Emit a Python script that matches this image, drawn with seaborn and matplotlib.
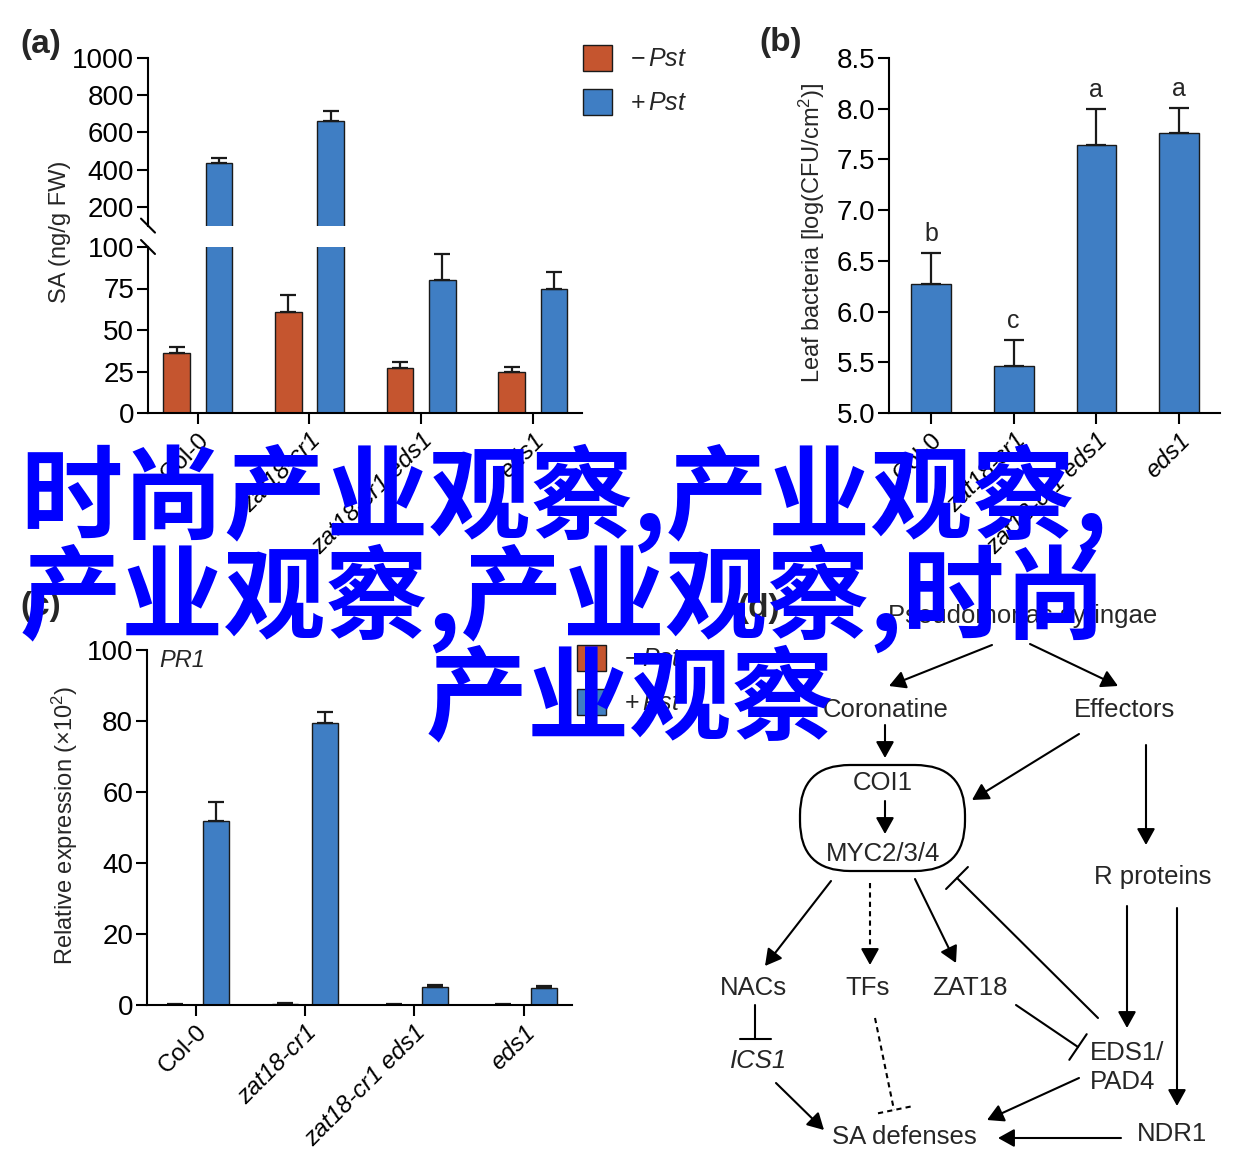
import numpy as np
import pandas as pd
import matplotlib
matplotlib.use("Agg")
import matplotlib.pyplot as plt
import seaborn as sns
from matplotlib.patches import Patch, FancyBboxPatch
from matplotlib import font_manager

# --- Data ---
genotypes = ["Col-0", "zat18-cr1", "zat18-cr1 eds1", "eds1"]
treatments = ["-Pst", "+Pst"]

# (a) SA content, ng/g FW
sa_mock = [36, 61, 27, 25]
sa_mock_err = [4, 10, 4, 2.5]
sa_pst = [436, 662, 80, 75]
sa_pst_err = [27, 53, 16, 10]

# (b) leaf bacteria, log(CFU/cm2)
bact = [6.27, 5.46, 7.64, 7.76]
bact_err = [0.31, 0.26, 0.36, 0.25]
bact_letters = ["b", "c", "a", "a"]

# (c) PR1 relative expression (x10^2)
pr1_mock = [0.1, 0.4, 0.1, 0.1]
pr1_mock_err = [0.05, 0.2, 0.05, 0.05]
pr1_pst = [51.8, 79.4, 5.1, 4.8]
pr1_pst_err = [5.4, 3.1, 0.5, 0.6]

overlay_lines = ["时尚产业观察,产业观察,", "产业观察,产业观察,时尚", "产业观察"]

# --- diagram (d): node labels and edges, in figure pixels ---
diag_labels = [
    ("Pseudomonas syringae", 1023, 616, "normal"),
    ("Coronatine", 886, 710, "normal"),
    ("Effectors", 1125, 710, "normal"),
    ("COI1", 883, 783, "normal"),
    ("MYC2/3/4", 883, 854, "normal"),
    ("R proteins", 1153, 877, "normal"),
    ("NACs", 753, 988, "normal"),
    ("TFs", 868, 988, "normal"),
    ("ZAT18", 970, 988, "normal"),
    ("ICS1", 759, 1061, "italic"),
    ("SA defenses", 904, 1137, "normal"),
    ("NDR1", 1172, 1134, "normal"),
]
diag_left_labels = [("EDS1/", 1090, 1053), ("PAD4", 1090, 1082)]
activations = [
    (992, 645, 889, 686), (1030, 644, 1118, 686), (885, 725, 885, 758),
    (1079, 734, 972, 800), (1146, 745, 1146, 845), (885, 801, 885, 834),
    (831, 881, 765, 966), (915, 879, 956, 963), (1127, 906, 1127, 1028),
    (1177, 908, 1177, 1106), (776, 1083, 824, 1130), (1079, 1078, 987, 1120),
    (1121, 1138, 998, 1138),
]
dotted_activations = [(870, 883, 870, 965)]
inhibitions = [(1098, 1018, 957, 878), (755, 1005, 755, 1039), (1016, 1005, 1078, 1047)]
dotted_inhibitions = [(875, 1018, 894, 1110)]

RED = "#C5552F"
BLUE = "#3F7EC4"
EDGE = "#1a1a1a"
W, H = 1245, 1166

sns.set_theme(style="ticks")
plt.rcParams["font.family"] = ["Liberation Sans", "DejaVu Sans"]
plt.rcParams["mathtext.fontset"] = "custom"
plt.rcParams["mathtext.rm"] = "Liberation Sans"
plt.rcParams["mathtext.it"] = "Liberation Sans:italic"
plt.rcParams["axes.linewidth"] = 1.5
plt.rcParams["axes.edgecolor"] = "black"

names = {f.name for f in font_manager.fontManager.ttflist}
NARROW = "Liberation Sans Narrow" if "Liberation Sans Narrow" in names else "Liberation Sans"


def rect(l, t, r, b):
    return [l / W, 1 - b / H, (r - l) / W, (b - t) / H]


def make_df(mock, mock_err, pst, pst_err):
    return pd.DataFrame({
        "genotype": genotypes * 2,
        "treatment": [treatments[0]] * 4 + [treatments[1]] * 4,
        "value": mock + pst,
        "err": mock_err + pst_err,
    })


def draw_bars(ax, df, width, gap, capsize, hue=True, err_min=None):
    if hue:
        sns.barplot(data=df, x="genotype", y="value", hue="treatment",
                    palette=[RED, BLUE], width=width, gap=gap, errorbar=None,
                    edgecolor=EDGE, linewidth=1.0, saturation=1, legend=False, ax=ax)
    else:
        sns.barplot(data=df, x="genotype", y="value", color=BLUE, width=width,
                    errorbar=None, edgecolor=EDGE, linewidth=1.0, saturation=1, ax=ax)
    xs = np.array([p.get_x() + p.get_width() / 2 for p in ax.patches])
    ys = np.array([p.get_height() for p in ax.patches])
    errs = df["err"].values
    keep = np.ones(len(ys), bool) if err_min is None else ys > err_min
    ax.errorbar(xs[keep], ys[keep], yerr=[np.zeros(keep.sum()), errs[keep]], fmt="none",
                ecolor=EDGE, elinewidth=1.6, capsize=capsize, capthick=1.6)
    ax.set_xlabel("")
    ax.set_ylabel("")


def style_axis(ax, ytick_family, xlabels=True):
    sns.despine(ax=ax)
    ax.tick_params(axis="both", direction="out", length=8, width=1.5, color="black",
                   labelcolor="black")
    ax.tick_params(axis="y", labelsize=20, pad=2)
    for t in ax.get_yticklabels():
        t.set_family(ytick_family)
    if xlabels:
        ax.set_xticks(range(len(genotypes)))
        ax.set_xticklabels(genotypes, rotation=45, ha="right", rotation_mode="anchor",
                           fontsize=17.5)
        for t in ax.get_xticklabels():
            if t.get_text() != "Col-0":
                t.set_style("italic")


fig = plt.figure(figsize=(W / 100, H / 100), dpi=100)

# --- (a) broken axis ---
ax_lo = fig.add_axes(rect(148, 247, 582, 413))
ax_hi = fig.add_axes(rect(148, 58, 582, 225.6))
sa_df = make_df(sa_mock, sa_mock_err, sa_pst, sa_pst_err)
draw_bars(ax_lo, sa_df, 0.756, 0.37, 5.8)
draw_bars(ax_hi, sa_df, 0.756, 0.37, 5.8, err_min=100)
for ax in (ax_lo, ax_hi):
    ax.set_xlim(-0.445, 3.44)
ax_lo.set_ylim(0, 100)
ax_lo.set_yticks([0, 25, 50, 75, 100])
style_axis(ax_lo, NARROW)
ax_hi.set_ylim(100, 1000)
ax_hi.set_yticks([200, 400, 600, 800, 1000])
style_axis(ax_hi, NARROW, xlabels=False)
ax_hi.spines["bottom"].set_visible(False)
ax_hi.tick_params(axis="x", bottom=False, labelbottom=False)
# break marks
dx = 7 / 434
ax_hi.plot([-dx, dx], [7 / 167.6, -7 / 167.6], transform=ax_hi.transAxes,
           color="black", lw=1.5, clip_on=False)
ax_lo.plot([-dx, dx], [1 + 7 / 166, 1 - 7 / 166], transform=ax_lo.transAxes,
           color="black", lw=1.5, clip_on=False)
fig.text(60 / W, 1 - 232 / H, "SA (ng/g FW)", rotation=90, ha="center", va="center",
         fontsize=17)

# --- (b) bacteria ---
ax_b = fig.add_axes(rect(889, 58, 1220, 413))
b_df = pd.DataFrame({"genotype": genotypes, "value": bact, "err": bact_err})
draw_bars(ax_b, b_df, 0.48, 0, 7.5, hue=False)
ax_b.set_xlim(-0.508, 3.495)
ax_b.set_ylim(5.0, 8.5)
ax_b.set_yticks(np.arange(5.0, 8.51, 0.5))
ax_b.set_yticklabels([f"{v:.1f}" for v in np.arange(5.0, 8.51, 0.5)])
style_axis(ax_b, "Liberation Sans")
for i, letter in enumerate(bact_letters):
    ax_b.annotate(letter, (i, bact[i] + bact_err[i]), xytext=(0, 5),
                  textcoords="offset points", ha="center", va="bottom", fontsize=18)
fig.text(812 / W, 1 - 233 / H, "Leaf bacteria [log(CFU/cm$^2$)]", rotation=90,
         ha="center", va="center", fontsize=17)

# --- (c) PR1 ---
ax_c = fig.add_axes(rect(147, 650, 572, 1005))
pr1_df = make_df(pr1_mock, pr1_mock_err, pr1_pst, pr1_pst_err)
draw_bars(ax_c, pr1_df, 0.744, 0.36, 5.8)
ax_c.set_xlim(-0.446, 3.443)
ax_c.set_ylim(0, 100)
ax_c.set_yticks([0, 20, 40, 60, 80, 100])
style_axis(ax_c, NARROW)
ax_c.text(0.03, 0.97, "PR1", transform=ax_c.transAxes, ha="left", va="center",
          fontsize=17, style="italic")
fig.text(65 / W, 1 - 825 / H, "Relative expression (×10$^2$)", rotation=90,
         ha="center", va="center", fontsize=17)

# --- legends ---
handles = [Patch(facecolor=RED, edgecolor=EDGE, lw=1), Patch(facecolor=BLUE, edgecolor=EDGE, lw=1)]
labels = [r"$-\,\mathit{Pst}$", r"$+\,\mathit{Pst}$"]
for lx, ly in [(583, 45), (577, 645)]:
    fig.legend(handles, labels, loc="upper left", bbox_to_anchor=(lx / W, 1 - ly / H),
               frameon=False, fontsize=18, handlelength=1.15, handleheight=1.2,
               handletextpad=0.75, labelspacing=0.72, borderpad=0, borderaxespad=0)

# --- panel letters ---
for lab, px, py in [("(a)", 41, 45), ("(b)", 781, 42), ("(c)", 41, 607), ("(d)", 759, 608)]:
    fig.text(px / W, 1 - py / H, lab, ha="center", va="center", fontsize=24,
             fontweight="bold")

# --- (d) diagram ---
ax_d = fig.add_axes([0, 0, 1, 1])
ax_d.set_xlim(0, W)
ax_d.set_ylim(H, 0)
ax_d.axis("off")
for txt, x, y, st in diag_labels:
    ax_d.text(x, y, txt, ha="center", va="center", fontsize=18.5, style=st)
for txt, x, y in diag_left_labels:
    ax_d.text(x, y, txt, ha="left", va="center", fontsize=18.5)
ax_d.add_patch(FancyBboxPatch((800, 765), 165, 106, boxstyle="round,pad=0,rounding_size=50",
                              fc="none", ec="black", lw=1.6))
arrow_kw = dict(arrowstyle="-|>,head_length=0.45,head_width=0.25", mutation_scale=22,
                color="black", lw=1.5, shrinkA=0, shrinkB=0)
for x0, y0, x1, y1 in activations:
    ax_d.annotate("", xy=(x1, y1), xytext=(x0, y0), arrowprops=arrow_kw)
for x0, y0, x1, y1 in dotted_activations:
    ax_d.plot([x0, x1], [y0, y1 - 8], color="black", lw=1.5, ls=(0, (2.5, 2)))
    ax_d.annotate("", xy=(x1, y1), xytext=(x1, y1 - 12), arrowprops=arrow_kw)


def tbar(x0, y0, x1, y1, ls="-", half=15.5):
    ax_d.plot([x0, x1], [y0, y1], color="black", lw=1.5, ls=ls)
    d = np.array([x1 - x0, y1 - y0], dtype=float)
    n = np.array([-d[1], d[0]]) / np.hypot(*d)
    ax_d.plot([x1 - half * n[0], x1 + half * n[0]], [y1 - half * n[1], y1 + half * n[1]],
              color="black", lw=1.5, ls=ls)


for x0, y0, x1, y1 in inhibitions:
    tbar(x0, y0, x1, y1)
for x0, y0, x1, y1 in dotted_inhibitions:
    tbar(x0, y0, x1, y1, ls=(0, (2.5, 2)), half=17)

# --- overlay text ---
for txt, px, py in [(overlay_lines[0], 20, 498), (overlay_lines[1], 20, 598),
                    (overlay_lines[2], 426, 701)]:
    fig.text(px / W, 1 - py / H, txt, ha="left", va="center", fontsize=73.5,
             fontweight="bold", color="#0000FF", family=["Noto Sans CJK SC", "DejaVu Sans"],
             zorder=10)

fig.savefig("out.png", dpi=100)
